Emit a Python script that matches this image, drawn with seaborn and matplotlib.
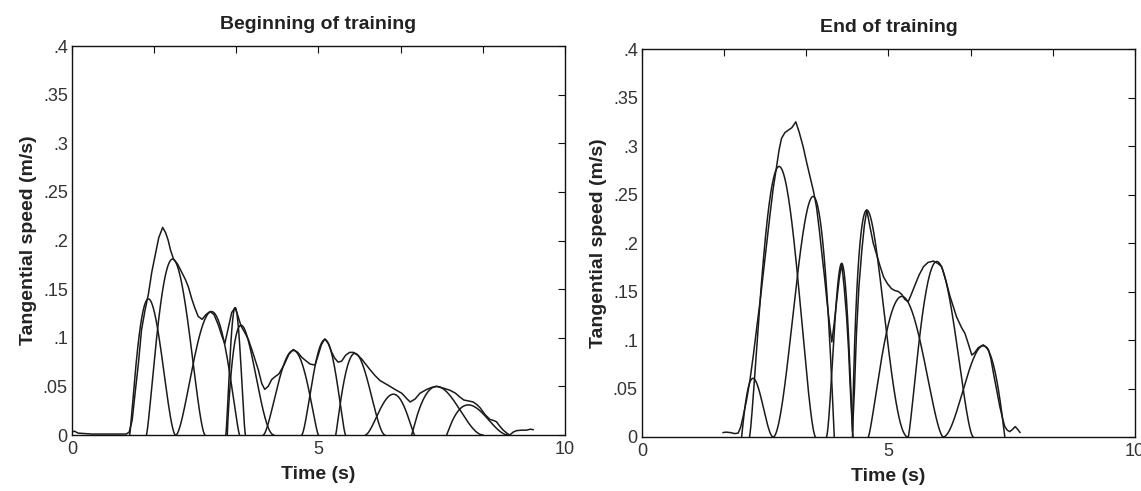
import numpy as np
import pandas as pd
import matplotlib
matplotlib.use("Agg")
import matplotlib.pyplot as plt
import seaborn as sns

# ---------------- data ----------------
titles = ["Beginning of training", "End of training"]

# measured tangential speed (envelope curve), panel 1
begin_t = [0.00, 0.05, 0.12, 0.40, 1.10, 1.16, 1.22, 1.28, 1.35, 1.41, 1.48, 1.55, 1.62, 1.68,
           1.76, 1.84, 1.90, 1.95, 2.00, 2.06, 2.14, 2.22, 2.30, 2.36, 2.43, 2.49, 2.56, 2.64,
           2.72, 2.80, 2.88, 2.97, 3.04, 3.10, 3.17, 3.24, 3.31, 3.37, 3.43, 3.50, 3.58, 3.68,
           3.78, 3.85, 3.91, 3.98, 4.05, 4.12, 4.20, 4.30, 4.40, 4.49, 4.58, 4.66, 4.73, 4.83,
           4.93, 5.00, 5.06, 5.13, 5.20, 5.27, 5.33, 5.40, 5.47, 5.55, 5.63, 5.71, 5.80, 5.88,
           5.94, 6.05, 6.15, 6.25, 6.42, 6.55, 6.69, 6.80, 6.86, 6.96, 7.06, 7.20, 7.30, 7.40,
           7.55, 7.67, 7.78, 7.87, 7.95, 8.05, 8.14, 8.22, 8.28, 8.38, 8.48, 8.55, 8.61, 8.68,
           8.75, 8.82, 8.88, 8.95, 9.02, 9.12, 9.22, 9.30, 9.36]
begin_v = [0.003, 0.004, 0.002, 0.001, 0.001, 0.003, 0.015, 0.043, 0.075, 0.108, 0.128, 0.145,
           0.168, 0.183, 0.203, 0.2135, 0.208, 0.2005, 0.190, 0.181, 0.176, 0.168, 0.160, 0.1525,
           0.140, 0.131, 0.122, 0.119, 0.124, 0.127, 0.124, 0.113, 0.102, 0.094, 0.110, 0.126,
           0.131, 0.122, 0.112, 0.106, 0.098, 0.083, 0.067, 0.053, 0.047, 0.050, 0.057, 0.060,
           0.063, 0.072, 0.083, 0.088, 0.085, 0.080, 0.077, 0.073, 0.072, 0.083, 0.093, 0.099,
           0.094, 0.085, 0.079, 0.075, 0.076, 0.082, 0.085, 0.085, 0.082, 0.078, 0.074, 0.067,
           0.061, 0.056, 0.051, 0.047, 0.043, 0.037, 0.034, 0.037, 0.043, 0.047, 0.049, 0.050,
           0.048, 0.046, 0.043, 0.039, 0.036, 0.035, 0.034, 0.031, 0.028, 0.021, 0.016, 0.015,
           0.0137, 0.009, 0.005, 0.002, 0.0, 0.003, 0.0045, 0.005, 0.005, 0.006, 0.0055]

# measured tangential speed (envelope curve), panel 2
end_t = [1.64, 1.70, 1.80, 1.88, 1.95, 2.00, 2.05, 2.12, 2.19, 2.26, 2.33, 2.40, 2.46, 2.53,
         2.60, 2.66, 2.73, 2.78, 2.83, 2.90, 2.97, 3.04, 3.12, 3.19, 3.27, 3.34, 3.41, 3.48,
         3.54, 3.60, 3.64, 3.70, 3.75, 3.80, 3.85, 3.90, 3.95, 4.00, 4.05, 4.10, 4.15, 4.19,
         4.22, 4.25, 4.27, 4.31, 4.35, 4.40, 4.46, 4.51, 4.56, 4.62, 4.69, 4.76, 4.83, 4.90,
         4.98, 5.06, 5.13, 5.20, 5.27, 5.33, 5.40, 5.47, 5.54, 5.62, 5.71, 5.80, 5.91, 6.00,
         6.08, 6.16, 6.25, 6.38, 6.48, 6.55, 6.62, 6.69, 6.75, 6.82, 6.92, 7.00, 7.03, 7.08,
         7.13, 7.20, 7.26, 7.32, 7.36, 7.41, 7.46, 7.52, 7.57, 7.62, 7.67]
end_v = [0.0045, 0.005, 0.0045, 0.0035, 0.004, 0.010, 0.021, 0.038, 0.059, 0.085, 0.114, 0.142,
         0.169, 0.200, 0.231, 0.256, 0.279, 0.296, 0.308, 0.314, 0.3165, 0.319, 0.325, 0.314,
         0.299, 0.283, 0.268, 0.253, 0.237, 0.212, 0.193, 0.166, 0.141, 0.118, 0.098, 0.118,
         0.141, 0.163, 0.179, 0.155, 0.124, 0.090, 0.055, 0.025, 0.006, 0.050, 0.107, 0.155,
         0.193, 0.218, 0.234, 0.218, 0.200, 0.188, 0.176, 0.165, 0.158, 0.153, 0.151, 0.150,
         0.147, 0.142, 0.1395, 0.148, 0.157, 0.167, 0.1756, 0.180, 0.1814, 0.179, 0.1756,
         0.162, 0.1447, 0.124, 0.113, 0.107, 0.096, 0.0845, 0.087, 0.092, 0.095, 0.092, 0.0897,
         0.080, 0.0656, 0.047, 0.031, 0.018, 0.0107, 0.007, 0.0055, 0.008, 0.0107, 0.008, 0.0045]

# extracted stroke components: onset, peak time, end, peak speed
begin_onset = [1.17, 1.51, 2.11, 3.12, 3.15, 3.88, 4.66, 5.35, 5.95, 6.89, 7.60]
begin_peak_t = [1.55, 2.04, 2.83, 3.31, 3.43, 4.49, 5.13, 5.74, 6.52, 7.40, 8.04]
begin_end = [2.10, 2.70, 3.40, 3.52, 4.10, 5.00, 5.55, 6.35, 6.95, 8.34, 8.85]
begin_peak_v = [0.140, 0.181, 0.127, 0.131, 0.113, 0.087, 0.098, 0.084, 0.042, 0.050, 0.031]

end_onset = [2.02, 2.18, 2.66, 3.74, 4.27, 4.59, 5.40, 6.11]
end_peak_t = [2.25, 2.78, 3.47, 4.05, 4.56, 5.27, 5.98, 6.92]
end_end = [2.66, 3.52, 3.90, 4.28, 5.40, 6.11, 6.72, 7.36]
end_peak_v = [0.0605, 0.279, 0.248, 0.179, 0.234, 0.145, 0.181, 0.094]

y_ticks = [0, 0.05, 0.10, 0.15, 0.20, 0.25, 0.30, 0.35, 0.40]
y_tick_labels = ["0", ".05", ".1", ".15", ".2", ".25", ".3", ".35", ".4"]
x_ticks = [0, 10 / 6, 20 / 6, 5, 40 / 6, 50 / 6, 10]
x_tick_labels = ["0", "", "", "5", "", "", "10"]


def bump(t, s, p, e, a, k=3.0):
    u = np.clip((t - s) / (e - s), 0, 1)
    m = (p - s) / (e - s)
    with np.errstate(divide="ignore", invalid="ignore"):
        f = a * (u / m) ** (k * m) * ((1 - u) / (1 - m)) ** (k * (1 - m))
    return np.nan_to_num(f)


def build_frame(env_t, env_v, onset, peak_t, end, peak_v):
    rows = [pd.DataFrame({"t": env_t, "v": env_v, "curve": "measured"})]
    for i, (s, p, e, a) in enumerate(zip(onset, peak_t, end, peak_v)):
        tt = np.linspace(s, e, 160)
        rows.append(pd.DataFrame({"t": tt, "v": bump(tt, s, p, e, a), "curve": f"c{i}"}))
    return pd.concat(rows, ignore_index=True)


frames = [build_frame(begin_t, begin_v, begin_onset, begin_peak_t, begin_end, begin_peak_v),
          build_frame(end_t, end_v, end_onset, end_peak_t, end_end, end_peak_v)]

# ---------------- drawing ----------------
sns.set_theme(style="white")
plt.rcParams["font.family"] = ["Liberation Sans", "DejaVu Sans"]

fig = plt.figure(figsize=(11.41, 4.91), dpi=100)
rects = [[0.0631, 0.114, 0.432, 0.792], [0.5627, 0.110, 0.432, 0.790]]

for rect, df, title in zip(rects, frames, titles):
    ax = fig.add_axes(rect)
    sns.lineplot(data=df, x="t", y="v", units="curve", estimator=None, sort=False,
                 color="#1a1a1a", linewidth=1.1, ax=ax, legend=False)
    ax.set_xlim(0, 10)
    ax.set_ylim(0, 0.4)
    ax.set_xticks(x_ticks)
    ax.set_xticklabels(x_tick_labels)
    ax.set_yticks(y_ticks)
    ax.set_yticklabels(y_tick_labels)
    ax.tick_params(direction="in", top=True, right=True, length=5, width=0.8,
                   labelsize=13, colors="#111111", labelcolor="#333333", pad=4)
    ax.tick_params(axis="y", pad=3)
    for sp in ax.spines.values():
        sp.set_visible(True)
        sp.set_color("#111111")
        sp.set_linewidth(1.0)
    ax.set_xlabel("Time (s)", fontsize=14, fontweight="bold", color="#222222", labelpad=6)
    ax.set_ylabel("Tangential speed (m/s)", fontsize=14, fontweight="bold", color="#222222",
                  labelpad=4)
    ax.set_title(title, fontsize=14, fontweight="bold", color="#222222", pad=12)

fig.savefig("out.png", dpi=100)
